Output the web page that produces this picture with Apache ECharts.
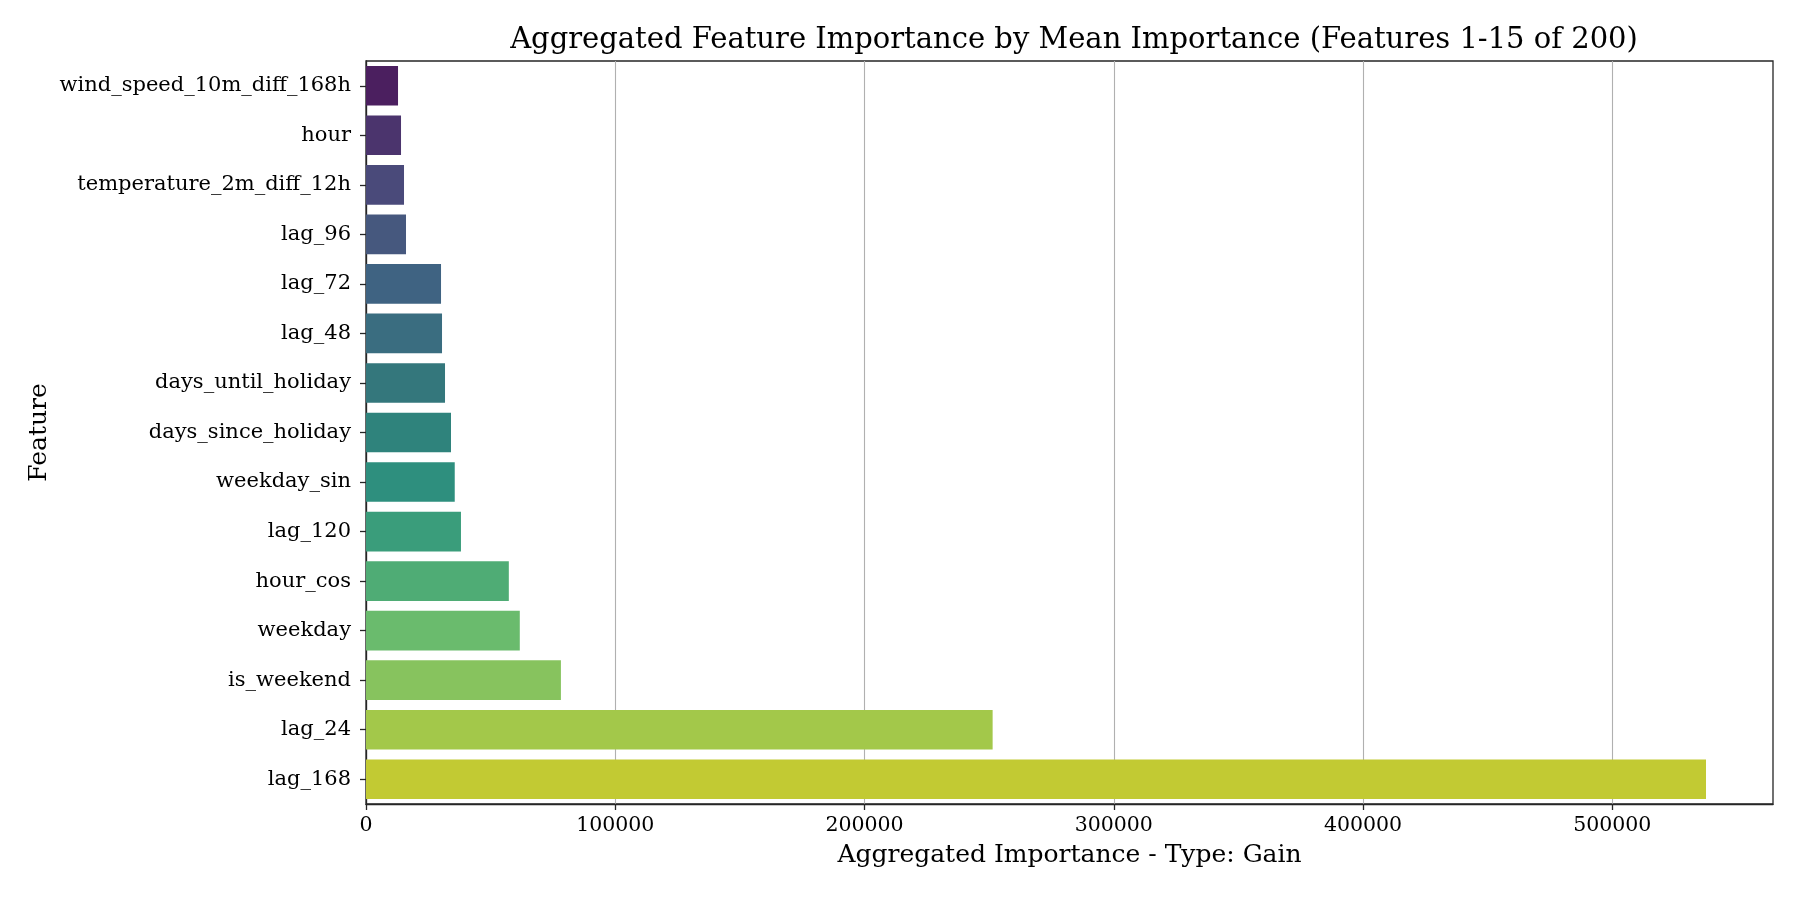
<!DOCTYPE html>
<html>
<head>
<meta charset="utf-8">
<title>Aggregated Feature Importance</title>
<script src="https://cdn.jsdelivr.net/npm/echarts@6/dist/echarts.min.js"></script>
<style>
  html, body { margin: 0; padding: 0; background: #fff; }
  #chart { width: 1800px; height: 900px; }
</style>
</head>
<body>
<div id="chart"></div>
<script>
// feature names, top to bottom
var features = [
  'wind_speed_10m_diff_168h', 'hour', 'temperature_2m_diff_12h', 'lag_96',
  'lag_72', 'lag_48', 'days_until_holiday', 'days_since_holiday',
  'weekday_sin', 'lag_120', 'hour_cos', 'weekday', 'is_weekend',
  'lag_24', 'lag_168'
];
// aggregated gain importance
var importance = [
  12850, 14050, 15250, 16050, 30100, 30500, 31700, 34100,
  35600, 38100, 57300, 61700, 78200, 251400, 537600
];
// desaturated viridis, one per bar
var barColors = [
  '#4b1f5f', '#4b346d', '#4a4a7a', '#46587e', '#3f6382', '#3a6d80',
  '#34777c', '#2f837c', '#2e8f7e', '#3a9d7b', '#4fac75', '#6abb6d',
  '#87c35e', '#a3c84a', '#c2ca33'
];
var xTicks = [0, 100000, 200000, 300000, 400000, 500000];

var font = 'DejaVu Serif';
var chart = echarts.init(document.getElementById('chart'), null, { renderer: 'canvas' });

chart.setOption({
  animation: false,
  backgroundColor: '#ffffff',
  title: {
    text: 'Aggregated Feature Importance by Mean Importance (Features 1-15 of 200)',
    left: 1069,
    textAlign: 'center',
    top: 21,
    textStyle: { fontFamily: font, fontSize: 29, fontWeight: 'normal', color: '#000' }
  },
  grid: {
    left: 366, right: 27, top: 61, bottom: 96,
    show: true, borderColor: '#262626', borderWidth: 1.3, backgroundColor: 'transparent'
  },
  xAxis: {
    type: 'value',
    min: 0,
    max: 564480,
    interval: 100000,
    name: 'Aggregated Importance - Type: Gain',
    nameLocation: 'middle',
    nameGap: 39,
    nameMoveOverlap: false,
    nameTextStyle: { fontFamily: font, fontSize: 25, color: '#000' },
    axisLine: { show: true, lineStyle: { color: '#262626', width: 1.3 } },
    axisTick: { show: true, length: 6, lineStyle: { color: '#262626', width: 1.3 }, customValues: xTicks },
    axisLabel: {
      fontFamily: font, fontSize: 20.5, color: '#000', margin: 11, customValues: xTicks,
      formatter: function (v) { return String(v); }
    },
    splitLine: { show: true, lineStyle: { color: '#b0b0b0', width: 1.1 } }
  },
  yAxis: {
    type: 'category',
    inverse: true,
    data: features,
    name: 'Feature',
    nameLocation: 'middle',
    nameGap: 314,
    nameMoveOverlap: false,
    nameTextStyle: { fontFamily: font, fontSize: 25, color: '#000' },
    axisLine: { show: true, lineStyle: { color: '#262626', width: 1.3 } },
    axisTick: { show: true, alignWithLabel: true, length: 6, lineStyle: { color: '#262626', width: 1.3 } },
    axisLabel: { fontFamily: font, fontSize: 21, color: '#000', margin: 15, padding: [3, 0, 0, 0] },
    splitLine: { show: false }
  },
  series: [{
    type: 'bar',
    barCategoryGap: '20%',
    data: importance.map(function (v, i) {
      return { value: v, itemStyle: { color: barColors[i] } };
    })
  }]
});
</script>
</body>
</html>
